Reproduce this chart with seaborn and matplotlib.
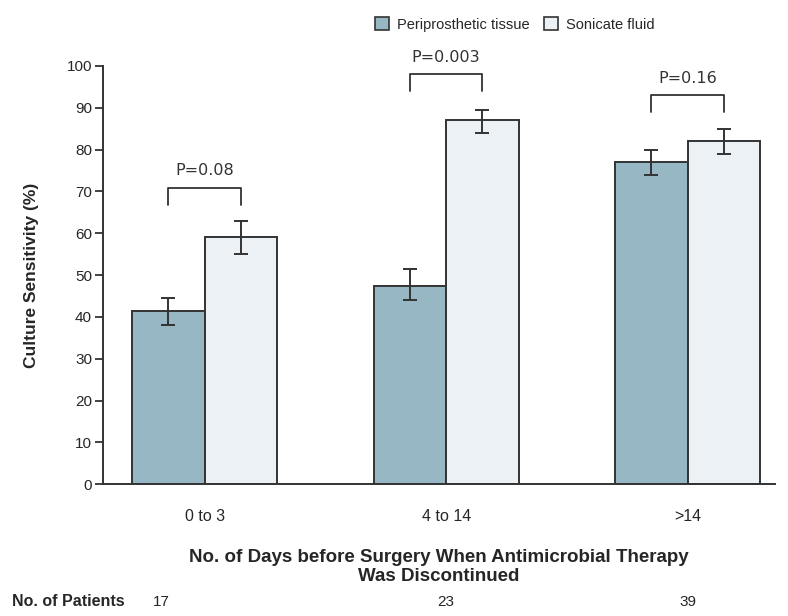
import pandas as pd
import matplotlib.pyplot as plt
import seaborn as sns
from matplotlib.patches import Patch

# =========================
# DADOS
# =========================
dias = ["0 to 3", "4 to 14", ">14"]
pacientes = [17, 23, 39]
series = ["Periprosthetic tissue", "Sonicate fluid"]

tecido = [41.5, 47.5, 77.0]
tecido_inf = [38.0, 44.0, 74.0]
tecido_sup = [44.5, 51.5, 80.0]

sonicado = [59.0, 87.0, 82.0]
sonicado_inf = [55.0, 84.0, 79.0]
sonicado_sup = [63.0, 89.5, 85.0]

p_valores = ["P=0.08", "P=0.003", "P=0.16"]
colchete_topo = [70.8, 98.0, 93.0]
colchete_perna = [66.7, 94.0, 89.0]

cores = ["#98b7c4", "#ecf1f6"]
borda = "#333333"

# =========================
# CONFIG
# =========================
sns.set_theme(style="white")
plt.rcParams["font.family"] = ["Liberation Sans Narrow", "Liberation Sans", "DejaVu Sans"]

df = pd.DataFrame({
    "dias": dias * 2,
    "serie": [series[0]] * 3 + [series[1]] * 3,
    "valor": tecido + sonicado,
})

fig = plt.figure(figsize=(7.88, 6.16), dpi=100)
ax = fig.add_axes([0.131, 0.214, 0.852, 0.679])

sns.barplot(
    data=df, x="dias", y="valor", hue="serie",
    order=dias, hue_order=series, palette=cores,
    width=0.6, errorbar=None, edgecolor=borda, linewidth=1.4,
    saturation=1, legend=False, ax=ax
)

# barras de erro
limites = [(tecido, tecido_inf, tecido_sup), (sonicado, sonicado_inf, sonicado_sup)]
centros = []
for cont, (vals, inf, sup) in zip(ax.containers, limites):
    xs = [b.get_x() + b.get_width() / 2 for b in cont]
    centros.append(xs)
    ax.errorbar(
        xs, vals,
        yerr=[[v - i for v, i in zip(vals, inf)], [s - v for v, s in zip(vals, sup)]],
        fmt="none", ecolor=borda, elinewidth=1.4, capsize=5, capthick=1.4, zorder=5
    )

# colchetes com P
for i in range(3):
    x0, x1 = centros[0][i], centros[1][i]
    ax.plot([x0, x0, x1, x1], [colchete_perna[i], colchete_topo[i], colchete_topo[i], colchete_perna[i]],
            color=borda, lw=1.3, clip_on=False)
    ax.text((x0 + x1) / 2, colchete_topo[i] + 2.3, p_valores[i], ha="center", va="bottom",
            fontsize=11.5, color="#333333", clip_on=False, family="DejaVu Sans")

ax.set_xlim(-0.42, 2.36)
ax.set_ylim(0, 100)
ax.set_yticks(range(0, 101, 10))
ax.tick_params(axis="y", left=True, length=6, width=1.3, color=borda, labelsize=11, pad=2)
ax.tick_params(axis="x", bottom=False, labelsize=11.5, pad=12)

for lado in ["top", "right"]:
    ax.spines[lado].set_visible(False)
for lado in ["left", "bottom"]:
    ax.spines[lado].set_color(borda)
    ax.spines[lado].set_linewidth(1.4)

ax.set_ylabel("Culture Sensitivity (%)", fontsize=12.5, fontweight="bold", labelpad=20)
ax.set_xlabel("No. of Days before Surgery When Antimicrobial Therapy\nWas Discontinued",
              fontsize=13.5, fontweight="bold", labelpad=18, linespacing=1.15)

# numero de pacientes
fig.text(0.015, 0.012, "No. of Patients", fontsize=11.5, fontweight="bold", va="bottom")
for i, n in enumerate(pacientes):
    xd = ax.transData.transform((i, 0))[0]
    xf = fig.transFigure.inverted().transform((xd, 0))[0]
    if i == 0:
        xf -= 0.055
    fig.text(xf, 0.012, str(n), fontsize=11, ha="center", va="bottom")

handles = [Patch(facecolor=c, edgecolor=borda, linewidth=1.2) for c in cores]
fig.legend(handles, series, loc="upper center", bbox_to_anchor=(0.653, 0.993), ncol=2,
           frameon=False, fontsize=10.5, handlelength=1.0, handleheight=1.0,
           handletextpad=0.5, columnspacing=1.0)

plt.savefig("out.png", dpi=100)
